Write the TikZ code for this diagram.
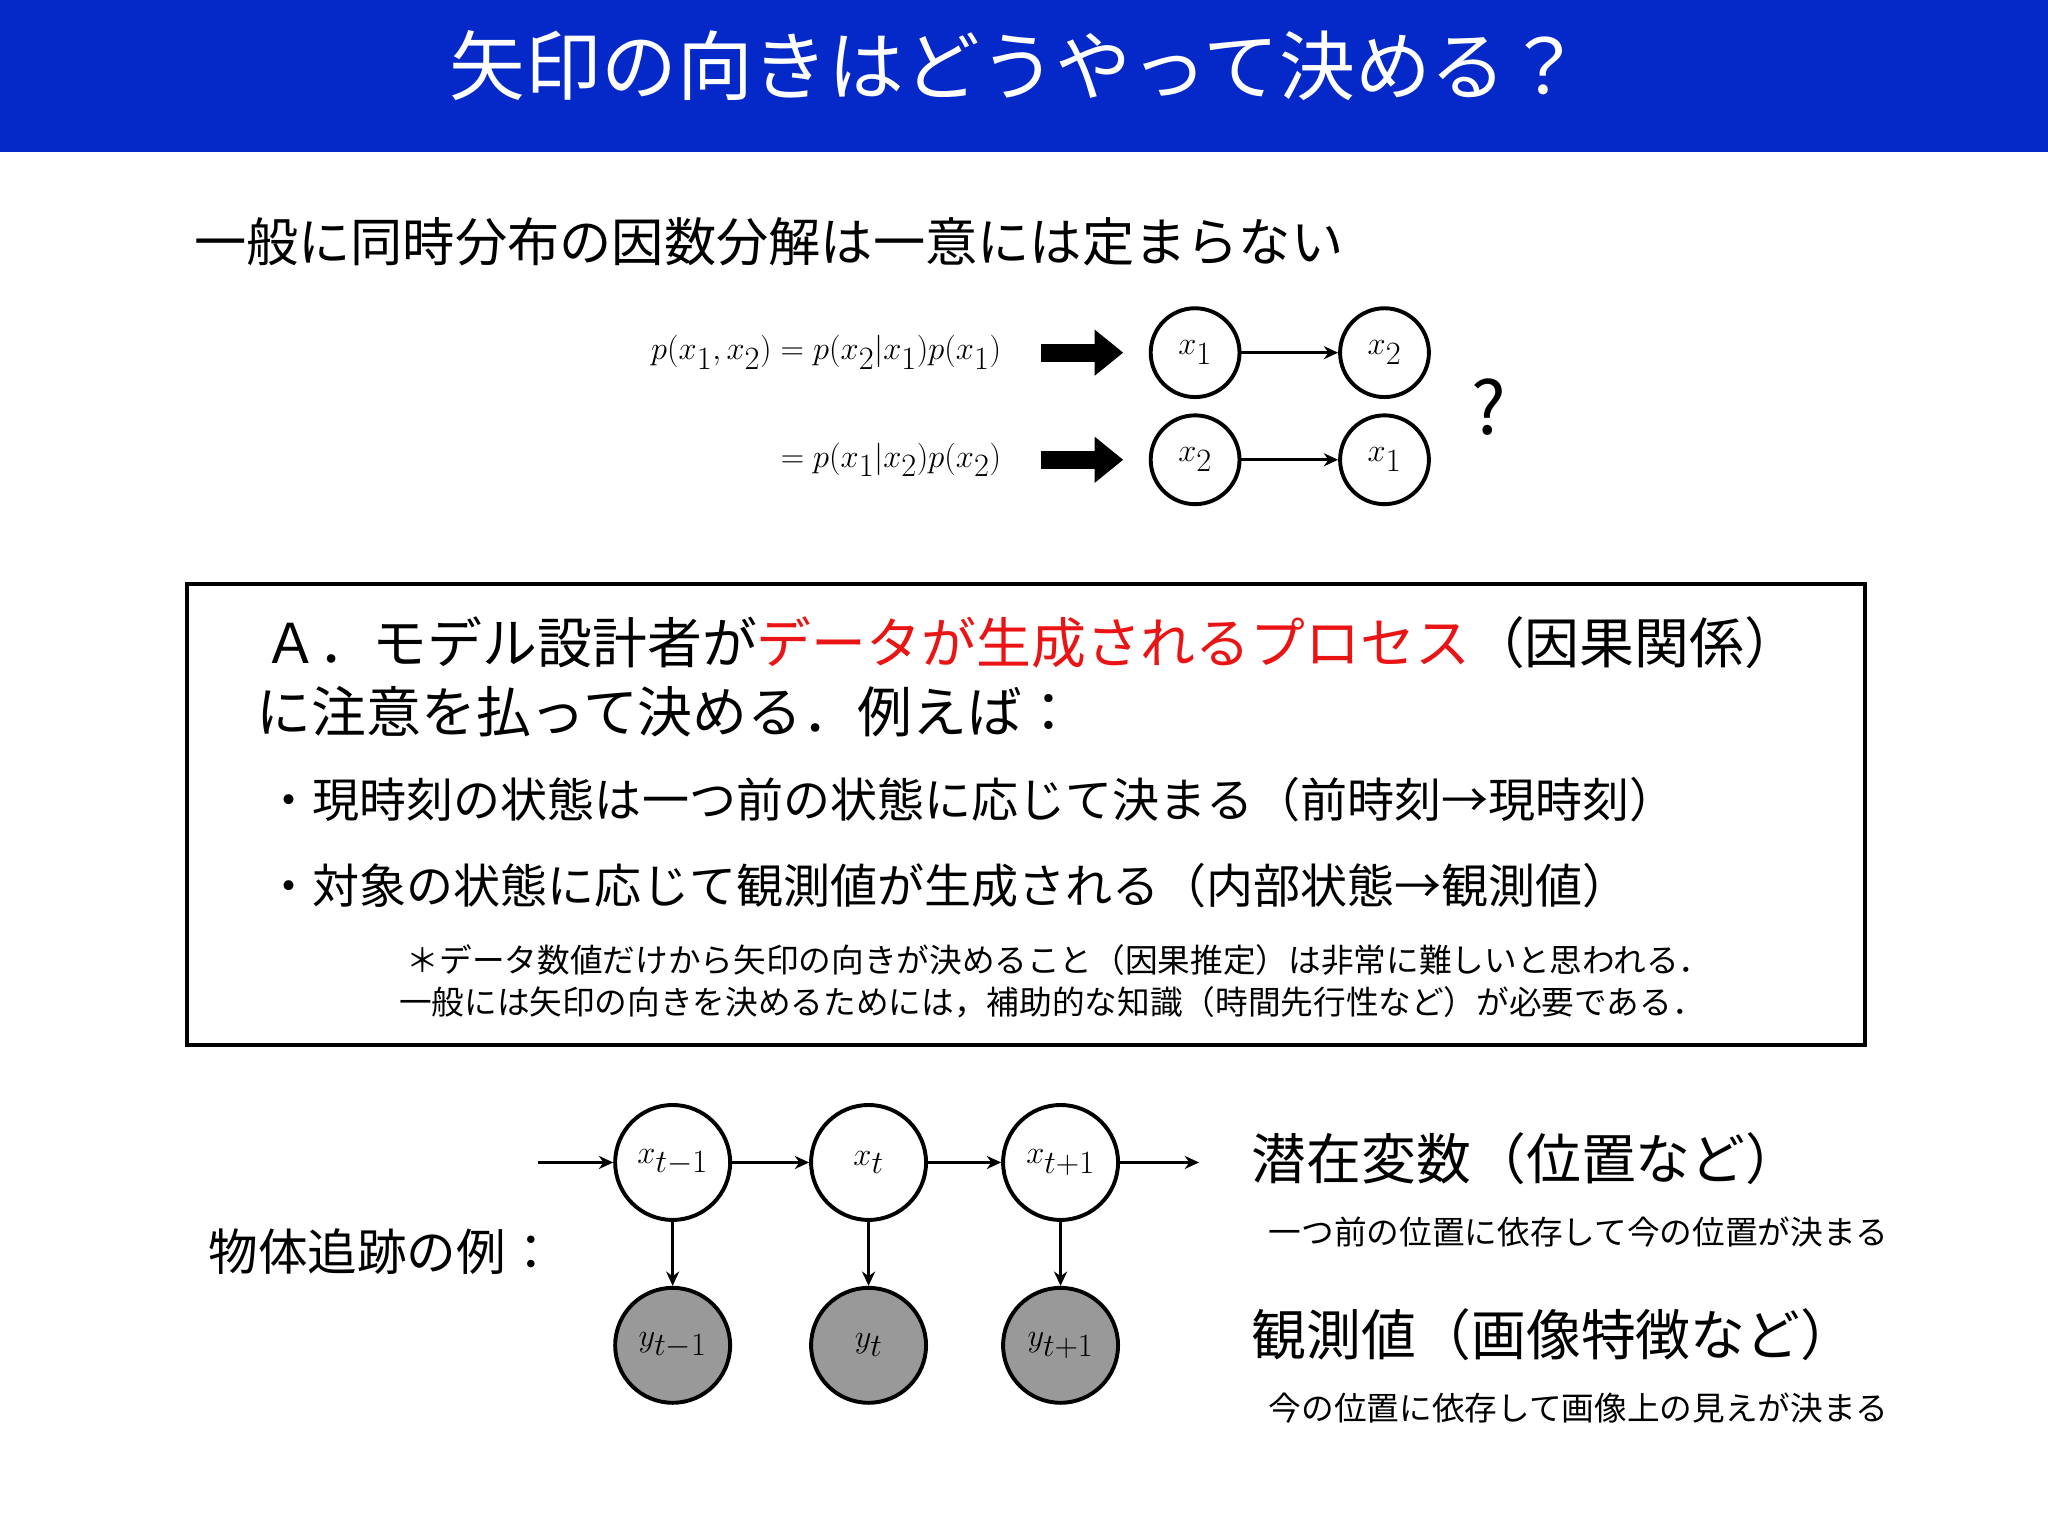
\documentclass[tikz,border=0pt]{standalone}
\usepackage{fontspec}
\setmainfont{Noto Sans CJK JP}
\usetikzlibrary{arrows.meta}
\definecolor{bar}{RGB}{5,40,200}
\definecolor{redt}{RGB}{235,20,20}
\tikzset{
 sz/.style={font=\fontsize{#1}{#1}\selectfont},
 cn/.style={circle,draw,line width=3pt,minimum size=68pt,inner sep=0pt,font=\fontsize{40}{40}\selectfont},
 gn/.style={circle,draw,line width=3pt,minimum size=88pt,inner sep=0pt,font=\fontsize{38}{38}\selectfont},
 obs/.style={gn,fill=black!40},
 ar/.style={-{Stealth[length=11pt,width=10pt]},line width=2pt},
 big/.style={-{Triangle[length=22pt,width=34pt]},line width=14pt},
}
\begin{document}
\begin{tikzpicture}[x=1pt,y=-1pt]
\useasboundingbox (0,0) rectangle (1568,1176);
\fill[white] (0,0) rectangle (1568,1176);
\fill[bar] (0,0) rectangle (1568,116);
\node[sz=58,text=white] (title) at (778,50) {矢印の向きはどうやって決める？};
\node[sz=40,anchor=west] (l1) at (145,185) {一般に同時分布の因数分解は一意には定まらない};
\node[sz=40,anchor=east] (e1) at (770,270) {$p(x_1,x_2)=p(x_2|x_1)p(x_1)$};
\node[sz=40,anchor=east] (e2) at (770,352) {$=p(x_1|x_2)p(x_2)$};
\coordinate (a1s) at (797,270); \coordinate (a1e) at (860,270);
\coordinate (a2s) at (797,352); \coordinate (a2e) at (860,352);
\draw[big] (a1s) -- (a1e);
\draw[big] (a2s) -- (a2e);
\node[cn] (p1) at (915,270) {$x_1$};
\node[cn] (p2) at (1060,270) {$x_2$};
\node[cn] (q1) at (915,352) {$x_2$};
\node[cn] (q2) at (1060,352) {$x_1$};
\draw[ar] (p1) -- (p2);
\draw[ar] (q1) -- (q2);
\node[sz=56] (qm) at (1140,312) {?};
\draw[line width=3pt] (143,447) rectangle (1428,800);
\node[sz=42,anchor=west] (A1) at (198,492) {Ａ．モデル設計者が\textcolor{redt}{データが生成されるプロセス}（因果関係）};
\node[sz=42,anchor=west] (A2) at (193,545) {に注意を払って決める．例えば：};
\node[sz=36,anchor=west] (b1) at (200,612) {・現時刻の状態は一つ前の状態に応じて決まる（前時刻→現時刻）};
\node[sz=36,anchor=west] (b2) at (200,678) {・対象の状態に応じて観測値が生成される（内部状態→観測値）};
\node[sz=25,anchor=west] (n1) at (308,735) {＊データ数値だけから矢印の向きが決めること（因果推定）は非常に難しいと思われる．};
\node[sz=25,anchor=west] (n2) at (302,767) {一般には矢印の向きを決めるためには，補助的な知識（時間先行性など）が必要である．};
\node[gn] (x1) at (515,890) {$x_{t-1}$};
\node[gn] (x2) at (665,890) {$x_t$};
\node[gn] (x3) at (812,890) {$x_{t+1}$};
\node[obs] (y1) at (515,1030) {$y_{t-1}$};
\node[obs] (y2) at (665,1030) {$y_t$};
\node[obs] (y3) at (812,1030) {$y_{t+1}$};
\coordinate (in) at (412,890); \coordinate (out) at (918,890);
\draw[ar] (in) -- (x1); \draw[ar] (x1) -- (x2); \draw[ar] (x2) -- (x3); \draw[ar] (x3) -- (out);
\draw[ar] (x1) -- (y1); \draw[ar] (x2) -- (y2); \draw[ar] (x3) -- (y3);
\node[sz=38,anchor=west] (ex) at (156,958) {物体追跡の例：};
\node[sz=42,anchor=west] (r1) at (955,887) {潜在変数（位置など）};
\node[sz=25,anchor=west] (r2) at (968,943) {一つ前の位置に依存して今の位置が決まる};
\node[sz=42,anchor=west] (r3) at (955,1022) {観測値（画像特徴など）};
\node[sz=25,anchor=west] (r4) at (968,1078) {今の位置に依存して画像上の見えが決まる};
\end{tikzpicture}
\end{document}
